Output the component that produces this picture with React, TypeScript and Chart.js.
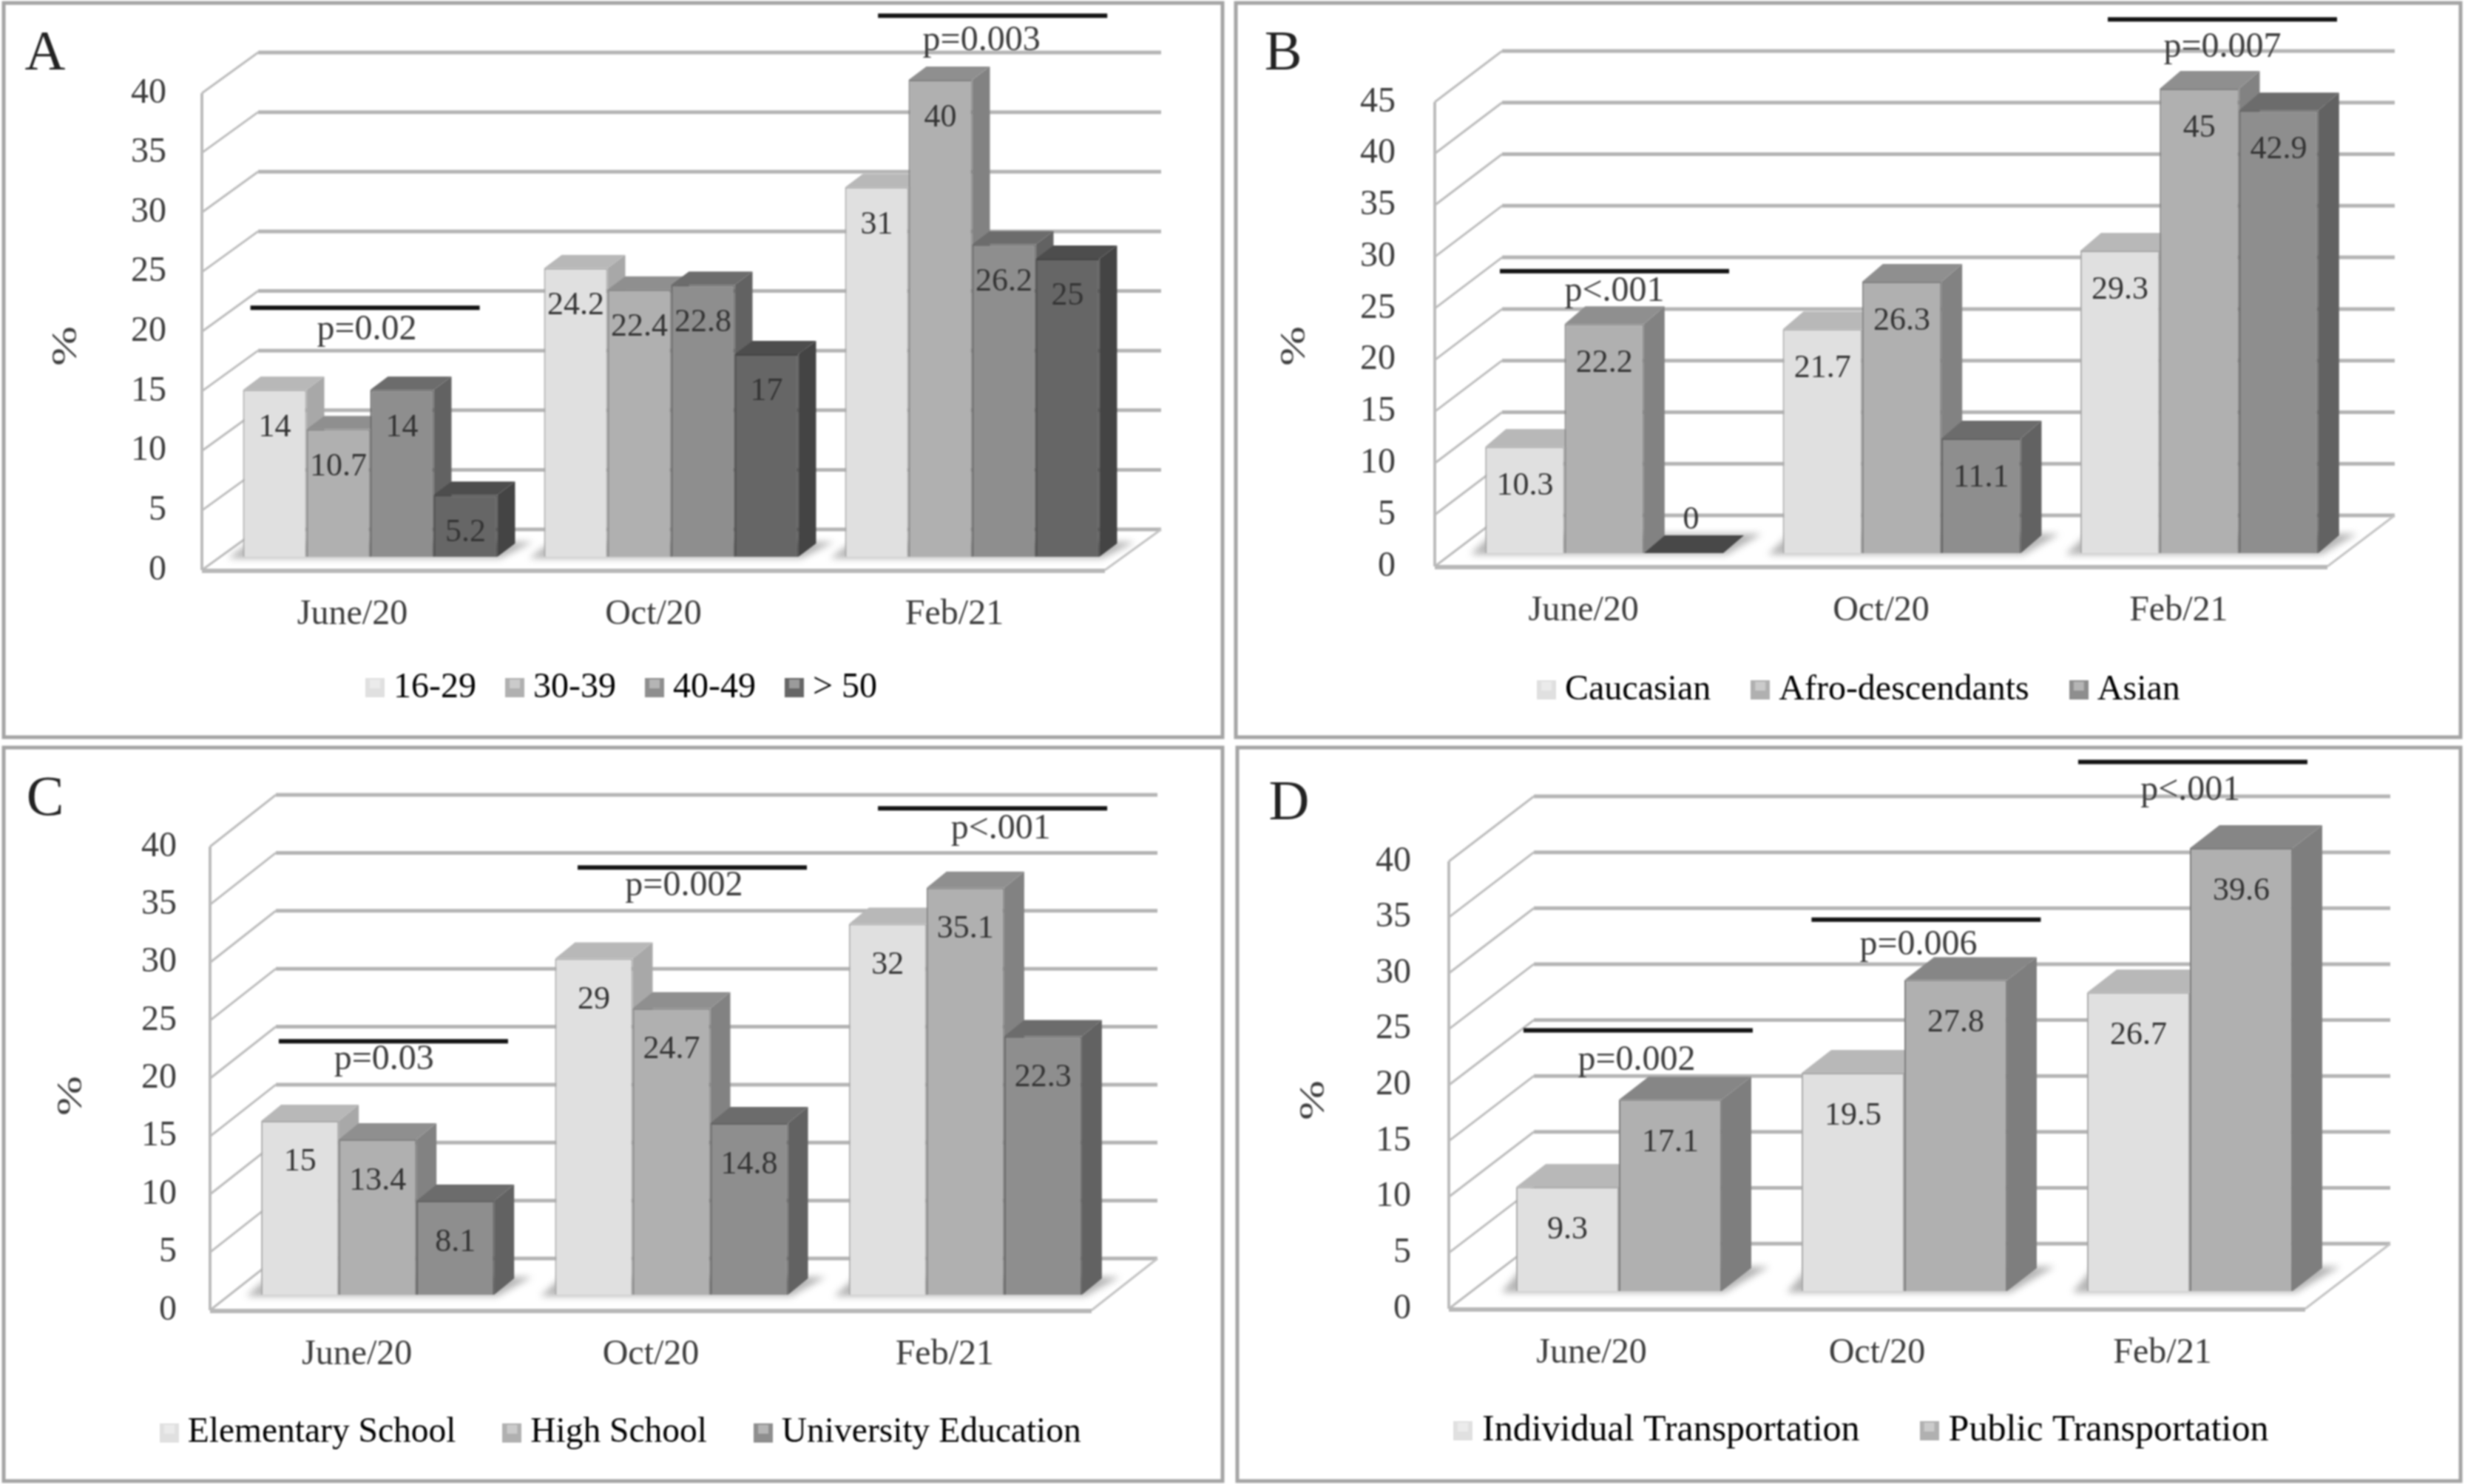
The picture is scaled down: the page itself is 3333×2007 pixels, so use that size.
import React, { useEffect, useRef } from "react";
import { Chart, registerables } from "chart.js";

Chart.register(...registerables);

const categories = ["June/20", "Oct/20", "Feb/21"];

const ageLabels = ["16-29", "30-39", "40-49", "> 50"];
const age16to29 = [14, 24.2, 31];
const age30to39 = [10.7, 22.4, 40];
const age40to49 = [14, 22.8, 26.2];
const ageOver50 = [5.2, 17, 25];

const raceLabels = ["Caucasian", "Afro-descendants", "Asian"];
const caucasian = [10.3, 21.7, 29.3];
const afroDescendants = [22.2, 26.3, 45];
const asian = [0, 11.1, 42.9];

const schoolLabels = ["Elementary School", "High School", "University Education"];
const elementarySchool = [15, 29, 32];
const highSchool = [13.4, 24.7, 35.1];
const universityEducation = [8.1, 14.8, 22.3];

const transportLabels = ["Individual Transportation", "Public Transportation"];
const individualTransport = [9.3, 19.5, 26.7];
const publicTransport = [17.1, 27.8, 39.6];

// p-value notes: text, then where line and text sit, in axis units (category index, value).
const pTextA = ["p=0.02", "p=0.003"];
const pLineCatA = [0.042, 2.127];
const pLineValA = [22.0, 46.5];
const pTextCatA = [0.048, 2.09];
const pTextValA = [20.1, 44.4];

const pTextB = ["p<.001", "p=0.007"];
const pLineCatB = [0.104, 2.147];
const pLineValB = [28.6, 53.0];
const pTextCatB = [0.104, 2.147];
const pTextValB = [26.6, 50.3];

const pTextC = ["p=0.03", "p=0.002", "p<.001"];
const pLineCatC = [0.124, 1.141, 2.163];
const pLineValC = [23.2, 38.2, 43.3];
const pTextCatC = [0.092, 1.113, 2.191];
const pTextValC = [21.6, 36.6, 41.5];

const pTextD = ["p=0.002", "p=0.006", "p<.001"];
const pLineCatD = [0.163, 1.172, 2.106];
const pLineValD = [24.9, 34.8, 48.9];
const pTextCatD = [0.158, 1.145, 2.098];
const pTextValD = [22.2, 32.5, 46.3];

const FONT = "'Liberation Serif', serif";
const INK = "#3c3c3c";
const GRID = "#b4b4b4";

const shade1 = { front: "#e0e0e0", top: "#b8b8b8", side: "#a8a8a8" };
const shade2 = { front: "#b0b0b0", top: "#8f8f8f", side: "#828282" };
const shade3 = { front: "#8e8e8e", top: "#6c6c6c", side: "#626262" };
const shade4 = { front: "#666666", top: "#4d4d4d", side: "#444444" };

const panels = [
  {
    letter: "A", letterX: 61, letterY: 74, origin: [0, 0], size: [1664, 1005],
    box: [5, 4, 1653, 997], frontLeft: 273, frontRight: 1494, y0: 771, yTop: 126, yMax: 40,
    back: [76, 55], plane: [24, -18], depth: [24, 18], catPct: 0.845, drop: 51,
    tickPad: 40, titleX: 90, titleY: 468, legendX: 493, legendY: 930, legendPad: 51, legendFont: 48,
    legend: ageLabels, values: [age16to29, age30to39, age40to49, ageOver50],
    shades: [shade1, shade2, shade3, shade4],
    p: [pTextA, pLineCatA, pLineValA, pTextCatA, pTextValA],
  },
  {
    letter: "B", letterX: 1735, letterY: 74, origin: [1664, 0], size: [1669, 1005],
    box: [1671, 4, 3327, 997], frontLeft: 1940, frontRight: 3147, y0: 766, yTop: 138, yMax: 45,
    back: [91, 69], plane: [28, -18], depth: [28, 24], catPct: 0.8, drop: 53,
    tickPad: 45, titleX: 1751, titleY: 468, legendX: 2077, legendY: 933, legendPad: 66, legendFont: 48,
    legend: raceLabels, values: [caucasian, afroDescendants, asian],
    shades: [shade1, shade2, shade3],
    p: [pTextB, pLineCatB, pLineValB, pTextCatB, pTextValB],
  },
  {
    letter: "C", letterX: 61, letterY: 1082, origin: [0, 1005], size: [1664, 1002],
    box: [5, 1011, 1653, 2003], frontLeft: 284, frontRight: 1476, y0: 1772, yTop: 1145, yMax: 40,
    back: [89, 70], plane: [28, -21], depth: [27, 22], catPct: 0.793, drop: 56,
    tickPad: 37, titleX: 97, titleY: 1482, legendX: 215, legendY: 1938, legendPad: 75, legendFont: 47.5,
    legend: schoolLabels, values: [elementarySchool, highSchool, universityEducation],
    shades: [shade1, shade2, shade3],
    p: [pTextC, pLineCatC, pLineValC, pTextCatC, pTextValC],
  },
  {
    letter: "D", letterX: 1743, letterY: 1088, origin: [1664, 1005], size: [1669, 1002],
    box: [1673, 1011, 3327, 2003], frontLeft: 1959, frontRight: 3117, y0: 1770, yTop: 1165, yMax: 40,
    back: [115, 88], plane: [37, -24], depth: [40, 31], catPct: 0.72, drop: 58,
    tickPad: 43, titleX: 1777, titleY: 1488, legendX: 1964, legendY: 1935, legendPad: 93, legendFont: 50,
    legend: transportLabels, values: [individualTransport, publicTransport],
    shades: [shade1, { front: "#b0b0b0", top: "#868686", side: "#7e7e7e" }],
    p: [pTextD, pLineCatD, pLineValD, pTextCatD, pTextValD],
  },
];

function makeMarker(color: string) {
  const c = document.createElement("canvas");
  c.width = 26;
  c.height = 26;
  const g = c.getContext("2d")!;
  g.fillStyle = color;
  g.fillRect(0, 0, 26, 26);
  g.fillStyle = "rgba(255,255,255,0.35)";
  g.fillRect(6, 2, 14, 12);
  return c;
}

function poly(ctx: CanvasRenderingContext2D, pts: number[][], fill: string) {
  ctx.beginPath();
  pts.forEach((p, i) => (i ? ctx.lineTo(p[0], p[1]) : ctx.moveTo(p[0], p[1])));
  ctx.closePath();
  ctx.fillStyle = fill;
  ctx.fill();
}

function line(ctx: CanvasRenderingContext2D, a: number[], b: number[], color: string, w: number) {
  ctx.beginPath();
  ctx.moveTo(a[0], a[1]);
  ctx.lineTo(b[0], b[1]);
  ctx.strokeStyle = color;
  ctx.lineWidth = w;
  ctx.stroke();
}

function makePlugin(cfg: any) {
  const ox = cfg.origin[0];
  const oy = cfg.origin[1];
  const [bx, by] = cfg.back;
  const [px, py] = cfg.plane;
  const [dx, dy] = cfg.depth;
  return {
    id: "panel3d",
    afterLayout(chart: any) {
      const lg = chart.legend;
      const P = cfg.legendPad;
      const start = (lg.left + P + lg.right - lg.lineWidths[0]) / 2;
      const delta = cfg.legendX - ox + 13 - start;
      lg.left += delta;
      lg.right += delta;
      lg.top = cfg.legendY - oy - P - cfg.legendFont / 2;
    },
    beforeDraw(chart: any) {
      const { ctx, scales } = chart;
      const { y: ys, x: xs } = scales;
      const L = xs.left;
      const R = xs.right;
      const y0 = ys.getPixelForValue(0);
      ctx.save();
      // panel frame
      ctx.strokeStyle = "#a4a4a4";
      ctx.lineWidth = 5;
      ctx.strokeRect(cfg.box[0] - ox, cfg.box[1] - oy, cfg.box[2] - cfg.box[0], cfg.box[3] - cfg.box[1]);
      // panel letter
      ctx.fillStyle = "#222222";
      ctx.font = `76px ${FONT}`;
      ctx.textAlign = "center";
      ctx.textBaseline = "middle";
      ctx.fillText(cfg.letter, cfg.letterX - ox, cfg.letterY - oy);
      // floor
      poly(ctx, [[L, y0], [R, y0], [R + bx, y0 - by], [L + bx, y0 - by]], "#ffffff");
      // walls
      ys.ticks.forEach((t: any) => {
        const y = ys.getPixelForValue(t.value);
        line(ctx, [L + bx, y - by], [R + bx, y - by], GRID, 5);
        line(ctx, [L, y], [L + bx, y - by], "#bcbcbc", 3);
      });
      line(ctx, [L, y0], [L, ys.getPixelForValue(cfg.yMax)], "#bcbcbc", 4);
      line(ctx, [R, y0], [R + bx, y0 - by], "#c4c4c4", 3);
      line(ctx, [L, y0 + 1], [R, y0 + 1], "#b8b8b8", 6);
      ctx.restore();
    },
    beforeDatasetsDraw(chart: any) {
      const { ctx } = chart;
      ctx.save();
      ctx.translate(px, py);
      const metas = chart.data.datasets.map((_: any, i: number) => chart.getDatasetMeta(i));
      // soft shadow on the floor below each group
      categories.forEach((_, c) => {
        const first = metas[0].data[c];
        const last = metas[metas.length - 1].data[c];
        const l = first.x - first.width / 2;
        const r = last.x + last.width / 2;
        const b = first.base;
        ctx.save();
        ctx.filter = "blur(5px)";
        poly(ctx, [[l - 20, b + 2], [r + 4, b + 2], [r + dx + 24, b - dy - 2], [l + 10, b - dy - 2]], "#b4b4b4");
        ctx.restore();
      });
      // side and top faces, left to right
      categories.forEach((_, c) => {
        metas.forEach((m: any, s: number) => {
          const e = m.data[c];
          const l = e.x - e.width / 2;
          const r = e.x + e.width / 2;
          const shade = cfg.shades[s];
          const zero = cfg.values[s][c] === 0;
          if (!zero) {
            poly(ctx, [[r, e.y], [r + dx, e.y - dy], [r + dx, e.base - dy], [r, e.base]], shade.side);
          }
          poly(ctx, [[l, e.y], [l + dx, e.y - dy], [r + dx, e.y - dy], [r, e.y]], zero ? "#484848" : shade.top);
        });
      });
    },
    afterDatasetsDraw(chart: any) {
      const { ctx, scales } = chart;
      ctx.restore();
      const { x: xs, y: ys } = scales;
      ctx.save();
      ctx.textAlign = "center";
      ctx.textBaseline = "middle";
      // value labels
      ctx.font = `44px ${FONT}`;
      ctx.fillStyle = "#333333";
      chart.data.datasets.forEach((ds: any, s: number) => {
        chart.getDatasetMeta(s).data.forEach((e: any, c: number) => {
          const v = ds.data[c];
          const offset = v === 0 ? -45 : cfg.drop;
          ctx.fillText(String(v), e.x + px + (v === 0 ? 10 : 0), e.y + py + offset);
        });
      });
      // p-value notes
      const [texts, lineCat, lineVal, textCat, textVal] = cfg.p;
      texts.forEach((t: string, i: number) => {
        const lx = xs.getPixelForValue(lineCat[i]);
        const ly = ys.getPixelForValue(lineVal[i]);
        line(ctx, [lx - 155, ly], [lx + 155, ly], "#141414", 6);
        ctx.font = `48px ${FONT}`;
        ctx.fillStyle = INK;
        ctx.fillText(t, xs.getPixelForValue(textCat[i]), ys.getPixelForValue(textVal[i]));
      });
      // axis title
      ctx.translate(cfg.titleX - ox, cfg.titleY - oy);
      ctx.rotate(-Math.PI / 2);
      ctx.scale(1.35, 1);
      ctx.font = `48px ${FONT}`;
      ctx.fillStyle = INK;
      ctx.fillText("%", 0, 0);
      ctx.restore();
    },
  };
}

function Panel({ cfg }: { cfg: any }) {
  const ref = useRef<HTMLCanvasElement | null>(null);
  useEffect(() => {
    const [ox, oy] = cfg.origin;
    const [W, H] = cfg.size;
    const legendH = cfg.legendFont + cfg.legendPad + 10;
    const chart = new Chart(ref.current!, {
      type: "bar",
      data: {
        labels: categories,
        datasets: cfg.values.map((v: number[], i: number) => ({
          label: cfg.legend[i],
          data: v,
          backgroundColor: cfg.shades[i].front,
          borderColor: cfg.shades[i].side,
          borderWidth: 2,
          categoryPercentage: cfg.catPct,
          barPercentage: 1,
          clip: false,
        })),
      },
      options: {
        responsive: false,
        animation: false,
        devicePixelRatio: 1,
        layout: {
          padding: { left: 0, right: W - (cfg.frontRight - ox), top: cfg.yTop - oy, bottom: 0 },
        },
        plugins: {
          tooltip: { enabled: false },
          legend: {
            position: "bottom",
            labels: {
              usePointStyle: true,
              boxWidth: 2,
              boxHeight: 26,
              padding: cfg.legendPad,
              color: INK,
              font: { family: FONT, size: cfg.legendFont },
              generateLabels: (c: any) =>
                c.data.datasets.map((d: any, i: number) => ({
                  text: d.label,
                  fillStyle: d.backgroundColor,
                  strokeStyle: d.backgroundColor,
                  lineWidth: 0,
                  hidden: false,
                  datasetIndex: i,
                  pointStyle: makeMarker(d.backgroundColor),
                })),
            },
          },
        },
        scales: {
          x: {
            grid: { display: false },
            border: { display: false },
            ticks: {
              padding: 24,
              maxRotation: 0,
              autoSkip: false,
              color: INK,
              font: { family: FONT, size: 48 },
            },
            afterFit: (s: any) => {
              s.height = H - legendH - (cfg.y0 - oy);
            },
          },
          y: {
            min: 0,
            max: cfg.yMax,
            grid: { display: false },
            border: { display: false },
            ticks: {
              stepSize: 5,
              padding: cfg.tickPad,
              color: INK,
              font: { family: FONT, size: 48 },
            },
            afterFit: (s: any) => {
              s.width = cfg.frontLeft - ox;
            },
          },
        },
      },
      plugins: [makePlugin(cfg)],
    } as any);
    return () => chart.destroy();
  }, [cfg]);
  return (
    <canvas
      ref={ref}
      width={cfg.size[0]}
      height={cfg.size[1]}
      style={{
        position: "absolute",
        left: cfg.origin[0],
        top: cfg.origin[1],
        width: cfg.size[0],
        height: cfg.size[1],
        filter: "blur(1px)",
      }}
    />
  );
}

export default function App() {
  return (
    <div style={{ position: "absolute", left: 0, top: 0, width: 3333, height: 2007, background: "#ffffff", overflow: "hidden" }}>
      {panels.map((p) => (
        <Panel key={p.letter} cfg={p} />
      ))}
    </div>
  );
}
